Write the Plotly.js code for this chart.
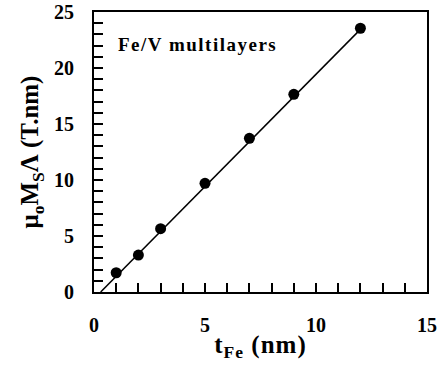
<!DOCTYPE html>
<html>
<head>
<meta charset="utf-8">
<script src="https://cdn.plot.ly/plotly-3.0.1.min.js"></script>
<style>
html,body{margin:0;padding:0;background:#fff;}
#chart{width:437px;height:371px;}
#chart .annotation-text {letter-spacing: 1.5px;}
#chart .xtitle {letter-spacing: 1px;}
</style>
</head>
<body>
<div id="chart"></div>
<script>
// Data
const tFe = [1, 2, 3, 5, 7, 9, 12];
const moment = [1.72, 3.3, 5.65, 9.7, 13.72, 17.65, 23.55];
const fitX = [0.3, 12];
const fitY = [0, 23.45];
const xTickStep = 5;
const yTickStep = 5;
const minorStep = 1;

const fam = 'Liberation Serif, Times New Roman, serif';

const traces = [
  {x: fitX, y: fitY, mode: 'lines', line: {color: '#000', width: 1.5}, hoverinfo: 'skip'},
  {x: tFe, y: moment, mode: 'markers', marker: {color: '#000', size: 11, symbol: 'circle'}}
];

function axis(step, range, standoff, title, tstand) {
  return {
    range: range, tickmode: 'linear', tick0: 0, dtick: step,
    ticks: 'inside', ticklen: 9, tickwidth: 2, tickcolor: '#000',
    minor: {dtick: minorStep, ticks: 'inside', ticklen: 9, tickwidth: 2, tickcolor: '#000'},
    showline: true, linecolor: '#000', linewidth: 2, mirror: true,
    showgrid: false, zeroline: false,
    tickfont: {family: fam, size: 20, color: '#000', weight: 700},
    ticklabelstandoff: standoff,
    title: {text: title, font: {family: fam, size: 25, color: '#000', weight: 700}, standoff: tstand}
  };
}

const layout = {
  width: 437, height: 371,
  margin: {l: 94, r: 10, t: 12, b: 79},
  paper_bgcolor: '#fff', plot_bgcolor: '#fff',
  showlegend: false,
  font: {family: fam, color: '#000'},
  xaxis: axis(xTickStep, [0, 15], 14, 't<sub>Fe</sub> (nm)', 0),
  yaxis: axis(yTickStep, [0, 25], 14, 'μ<sub>o</sub>M<sub>S</sub>Λ (T.nm)', 8),
  annotations: [{
    text: 'Fe/V multilayers', xref: 'paper', yref: 'paper',
    x: 0.311, y: 0.885, xanchor: 'center', yanchor: 'middle', showarrow: false,
    font: {family: fam, size: 19, color: '#000', weight: 700}
  }]
};

Plotly.newPlot('chart', traces, layout, {displayModeBar: false});
</script>
</body>
</html>
